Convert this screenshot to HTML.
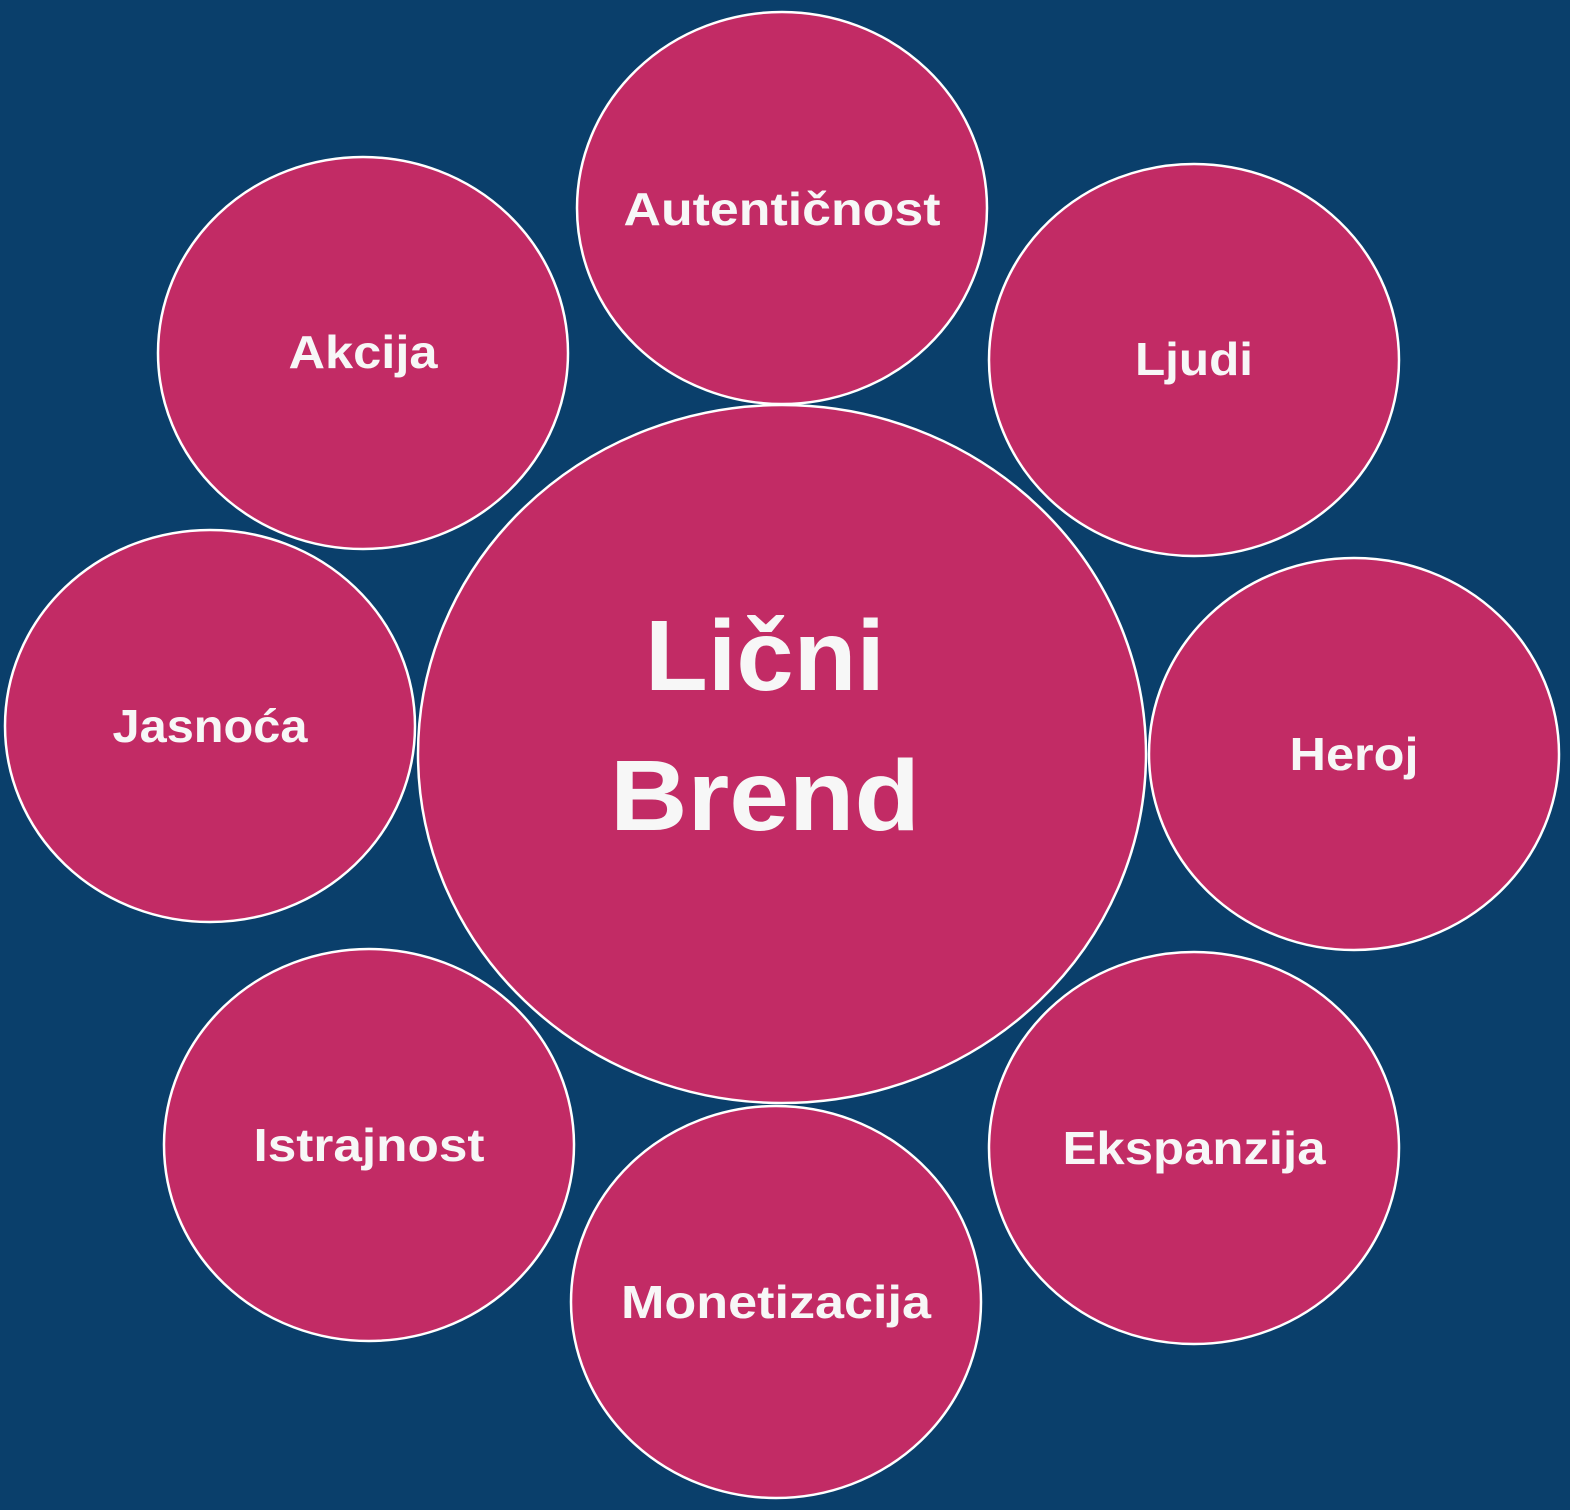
<!DOCTYPE html>
<html><head><meta charset="utf-8"><style>
html,body{margin:0;padding:0;background:#0a3f6b;}
svg{display:block}
text{font-family:"Liberation Sans",sans-serif;font-weight:bold;fill:#f7f7f7;text-anchor:middle}
</style></head><body>
<svg width="1570" height="1510" viewBox="0 0 1570 1510">
<rect width="1570" height="1510" fill="#0a3f6b"/>
<g fill="#c22b65" stroke="#ffffff" stroke-width="2.5">
<ellipse cx="782" cy="754" rx="364" ry="349"/>
<ellipse cx="782" cy="208" rx="205" ry="196"/>
<ellipse cx="363" cy="353" rx="205" ry="196"/>
<ellipse cx="1194" cy="360" rx="205" ry="196"/>
<ellipse cx="210" cy="726" rx="205" ry="196"/>
<ellipse cx="1354" cy="754" rx="205" ry="196"/>
<ellipse cx="369" cy="1145" rx="205" ry="196"/>
<ellipse cx="1194" cy="1148" rx="205" ry="196"/>
<ellipse cx="776" cy="1302" rx="205" ry="196"/>
</g>
<g font-size="46">
<text x="782" y="225" textLength="317" lengthAdjust="spacingAndGlyphs">Autentičnost</text>
<text x="363" y="368" textLength="149" lengthAdjust="spacingAndGlyphs">Akcija</text>
<text x="1194" y="375" textLength="118" lengthAdjust="spacingAndGlyphs">Ljudi</text>
<text x="210" y="742" textLength="195" lengthAdjust="spacingAndGlyphs">Jasnoća</text>
<text x="1354" y="770" textLength="129" lengthAdjust="spacingAndGlyphs">Heroj</text>
<text x="369" y="1161" textLength="231" lengthAdjust="spacingAndGlyphs">Istrajnost</text>
<text x="1194" y="1164" textLength="263" lengthAdjust="spacingAndGlyphs">Ekspanzija</text>
<text x="776" y="1318" textLength="310" lengthAdjust="spacingAndGlyphs">Monetizacija</text>
</g>
<g font-size="100">
<text x="765" y="690" textLength="240" lengthAdjust="spacingAndGlyphs">Lični</text>
<text x="765" y="830" textLength="310" lengthAdjust="spacingAndGlyphs">Brend</text>
</g>
</svg>
</body></html>
